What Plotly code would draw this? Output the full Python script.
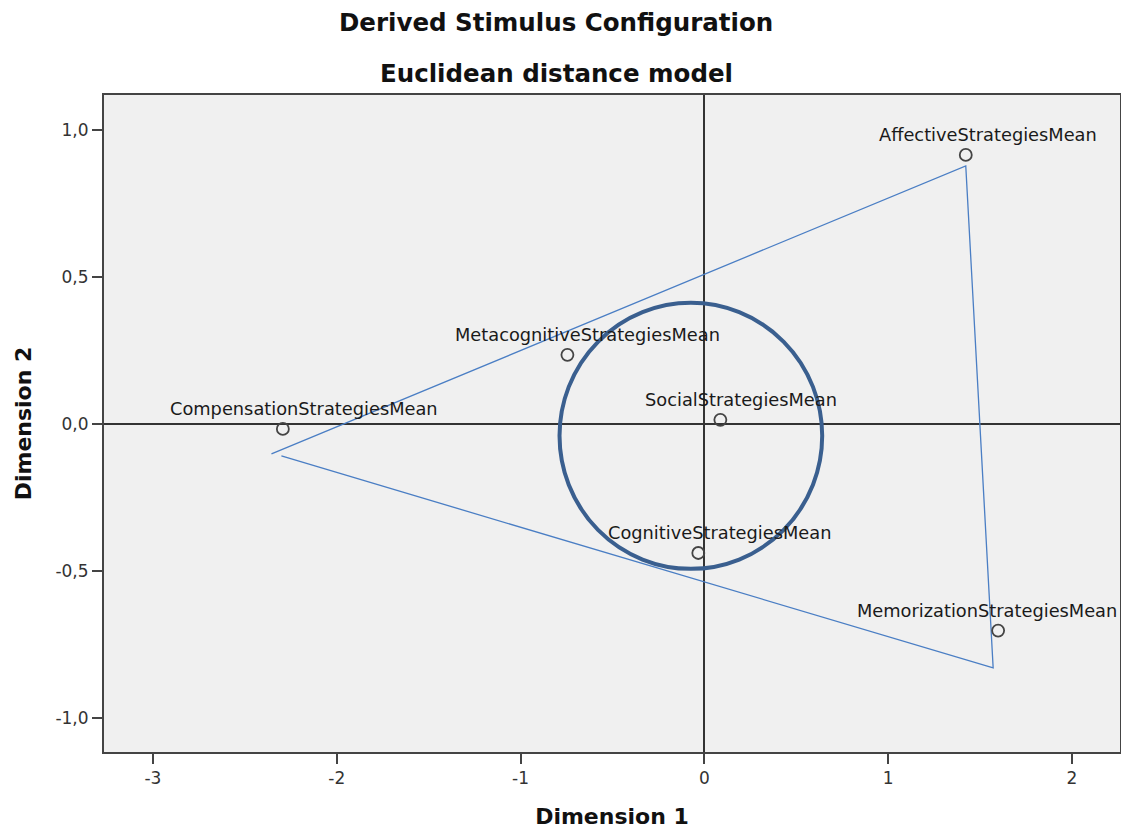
import plotly.graph_objects as go

# Data
labels = ["AffectiveStrategiesMean", "MetacognitiveStrategiesMean", "SocialStrategiesMean",
          "CompensationStrategiesMean", "CognitiveStrategiesMean", "MemorizationStrategiesMean"]
dim1 = [1.422, -0.745, 0.087, -2.293, -0.033, 1.598]
dim2 = [0.915, 0.235, 0.014, -0.017, -0.439, -0.703]

# hand-drawn annotations (triangle and circle) in data units
tri_x = [-2.355, 1.422, 1.571, -2.301]
tri_y = [-0.102, 0.878, -0.830, -0.109]
circ_x = [-0.788, 0.641]
circ_y = [-0.493, 0.412]

x_ticks = [-3, -2, -1, 0, 1, 2]
x_tick_labels = ["-3", "-2", "-1", "0", "1", "2"]
y_ticks = [-1.0, -0.5, 0.0, 0.5, 1.0]
y_tick_labels = ["-1,0", "-0,5", "0,0", "0,5", "1,0"]

label_xshift = [22, 20, 21, 21, 21, -11]

FONT = "DejaVu Sans, Liberation Sans, Arial"

fig = go.Figure()
fig.add_trace(go.Scatter(x=tri_x, y=tri_y, mode="lines",
                         line=dict(color="#4A7EC4", width=1.3), hoverinfo="skip", showlegend=False))
fig.add_trace(go.Scatter(x=dim1, y=dim2, mode="markers",
                         marker=dict(symbol="circle-open", size=12, color="#444444",
                                     line=dict(width=1.8, color="#444444")),
                         text=labels, showlegend=False))

for lab, x, y, xs in zip(labels, dim1, dim2, label_xshift):
    fig.add_annotation(x=x, y=y, text=lab, showarrow=False, xshift=xs, yshift=20,
                       font=dict(family=FONT, size=17.8, color="#1a1a1a"))

fig.add_shape(type="circle", xref="x", yref="y", x0=circ_x[0], x1=circ_x[1],
              y0=circ_y[0], y1=circ_y[1], line=dict(color="#3A5F8F", width=4))

fig.add_annotation(xref="paper", yref="paper", x=0.445, y=1, yshift=73, yanchor="middle",
                   text="<b>Derived Stimulus Configuration</b>", showarrow=False,
                   font=dict(family=FONT, size=24.5, color="#111"))
fig.add_annotation(xref="paper", yref="paper", x=0.445, y=1, yshift=22, yanchor="middle",
                   text="<b>Euclidean distance model</b>", showarrow=False,
                   font=dict(family=FONT, size=24.5, color="#111"))

axis_common = dict(showgrid=False, zeroline=True, zerolinecolor="#333333", zerolinewidth=2,
                   showline=True, mirror=True, linecolor="#444444", linewidth=2,
                   ticks="outside", ticklen=10, tickwidth=2, tickcolor="#444444",
                   automargin=False,
                   tickfont=dict(family=FONT, size=17, color="#333333"))

fig.update_layout(
    width=1113, height=821,
    margin=dict(l=96, r=1, t=87, b=77),
    paper_bgcolor="white", plot_bgcolor="#F0F0F0",
    xaxis=dict(range=[-3.266, 2.261], tickvals=x_ticks, ticktext=x_tick_labels,
               title=dict(text="<b>Dimension 1</b>", standoff=22,
                          font=dict(family=FONT, size=22, color="#111")),
               **axis_common),
    yaxis=dict(range=[-1.116, 1.119], tickvals=y_ticks, ticktext=y_tick_labels,
               title=dict(text="<b>Dimension 2</b>", standoff=18,
                          font=dict(family=FONT, size=22, color="#111")),
               **axis_common),
)

fig.write_html("out.html")
